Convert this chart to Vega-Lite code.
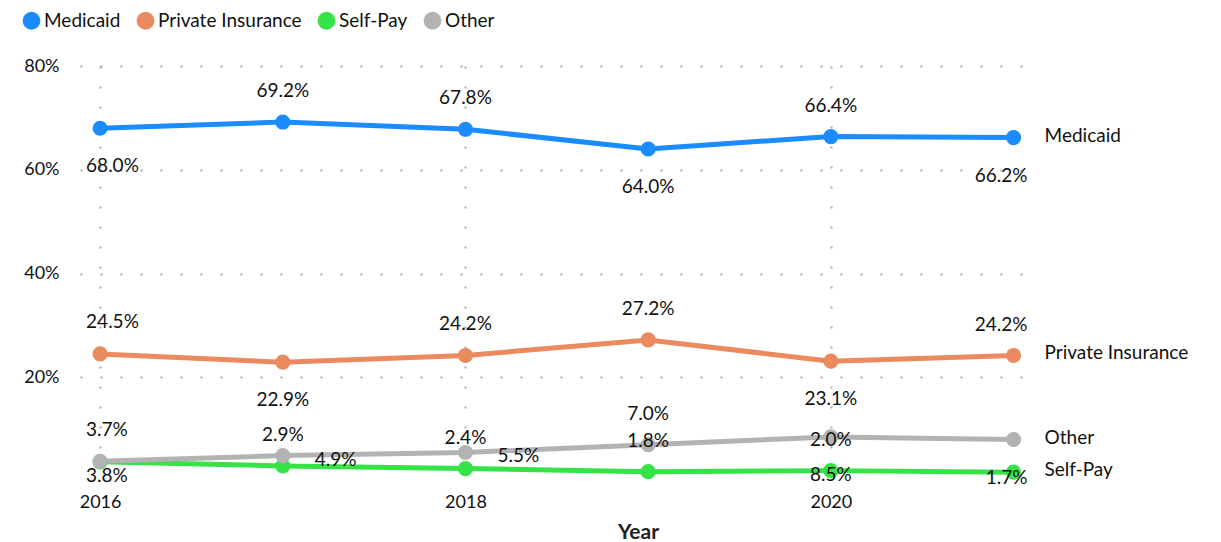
{
  "$schema": "https://vega.github.io/schema/vega-lite/v6.json",
  "width": 950,
  "height": 415,
  "autosize": "none",
  "padding": {"left": 80, "top": 66, "right": 191, "bottom": 61},
  "background": "white",
  "config": {
    "font": "Lato",
    "view": {"stroke": null},
    "text": {"font": "Lato", "fontSize": 19, "color": "#111", "baseline": "middle"}
  },
  "data": {
    "values": [
      {"series": "Medicaid", "year": 2016, "value": 0.680},
      {"series": "Medicaid", "year": 2017, "value": 0.692},
      {"series": "Medicaid", "year": 2018, "value": 0.678},
      {"series": "Medicaid", "year": 2019, "value": 0.640},
      {"series": "Medicaid", "year": 2020, "value": 0.664},
      {"series": "Medicaid", "year": 2021, "value": 0.662},
      {"series": "Private Insurance", "year": 2016, "value": 0.245},
      {"series": "Private Insurance", "year": 2017, "value": 0.229},
      {"series": "Private Insurance", "year": 2018, "value": 0.242},
      {"series": "Private Insurance", "year": 2019, "value": 0.272},
      {"series": "Private Insurance", "year": 2020, "value": 0.231},
      {"series": "Private Insurance", "year": 2021, "value": 0.242},
      {"series": "Self-Pay", "year": 2016, "value": 0.037},
      {"series": "Self-Pay", "year": 2017, "value": 0.029},
      {"series": "Self-Pay", "year": 2018, "value": 0.024},
      {"series": "Self-Pay", "year": 2019, "value": 0.018},
      {"series": "Self-Pay", "year": 2020, "value": 0.020},
      {"series": "Self-Pay", "year": 2021, "value": 0.017},
      {"series": "Other", "year": 2016, "value": 0.038},
      {"series": "Other", "year": 2017, "value": 0.049},
      {"series": "Other", "year": 2018, "value": 0.055},
      {"series": "Other", "year": 2019, "value": 0.070},
      {"series": "Other", "year": 2020, "value": 0.085},
      {"series": "Other", "year": 2021, "value": 0.080}
    ]
  },
  "transform": [
    {"calculate": "datum.series + '|' + datum.year", "as": "key"}
  ],
  "encoding": {
    "x": {
      "field": "year", "type": "quantitative",
      "scale": {"domain": [2015.89, 2021.09], "nice": false, "zero": false},
      "axis": {
        "values": [2016, 2018, 2020], "format": "d",
        "domain": false, "ticks": false,
        "labelFontSize": 18, "labelColor": "#111", "labelPadding": 12,
        "grid": true, "gridDash": [2, 18], "gridColor": "#aaa", "gridWidth": 2,
        "title": "Year", "titleFontSize": 21, "titleFontWeight": "bold", "titleColor": "#222",
        "titleX": 558, "titleY": 51, "titleBaseline": "middle", "titleAlign": "center", "titleAnchor": null
      }
    },
    "y": {
      "field": "value", "type": "quantitative",
      "scale": {"domain": [0, 0.8], "nice": false},
      "axis": {
        "values": [0.2, 0.4, 0.6, 0.8], "format": ".0%",
        "domain": false, "ticks": false,
        "labelFontSize": 18, "labelColor": "#111", "labelPadding": 21,
        "grid": true, "gridDash": [2, 18], "gridColor": "#aaa", "gridWidth": 2,
        "title": null
      }
    }
  },
  "layer": [
    {
      "mark": {"type": "line", "strokeWidth": 5},
      "encoding": {
        "color": {
          "field": "series", "type": "nominal",
          "scale": {"domain": ["Medicaid", "Private Insurance", "Self-Pay", "Other"], "range": ["#1a8cff", "#eb8a5f", "#35e347", "#b3b3b3"]},
          "legend": {
            "orient": "none", "legendX": -58, "legendY": -55, "direction": "horizontal",
            "title": null, "symbolType": "circle", "symbolSize": 320, "symbolStrokeWidth": 0,
            "labelFontSize": 19, "labelColor": "#111", "columnPadding": 15, "labelOffset": 3, "symbolOpacity": 1
          }
        },
        "order": {"field": "year"}
      }
    },
    {
      "mark": {"type": "circle", "size": 230, "opacity": 1},
      "encoding": {
        "color": {"field": "series", "type": "nominal"}
      }
    },
    {
      "transform": [{"filter": "indexof(['Medicaid|2017','Medicaid|2018','Medicaid|2020','Private Insurance|2018','Private Insurance|2019','Self-Pay|2017','Self-Pay|2018','Self-Pay|2019','Self-Pay|2020','Other|2019'], datum.key) >= 0"}],
      "mark": {"type": "text", "align": "center", "dy": -31},
      "encoding": {"text": {"field": "value", "format": ".1%"}}
    },
    {
      "transform": [{"filter": "indexof(['Medicaid|2019','Private Insurance|2017','Private Insurance|2020','Other|2020'], datum.key) >= 0"}],
      "mark": {"type": "text", "align": "center", "dy": 38},
      "encoding": {"text": {"field": "value", "format": ".1%"}}
    },
    {
      "transform": [{"filter": "indexof(['Private Insurance|2016','Self-Pay|2016'], datum.key) >= 0"}],
      "mark": {"type": "text", "align": "left", "dx": -14, "dy": -32},
      "encoding": {"text": {"field": "value", "format": ".1%"}}
    },
    {
      "transform": [{"filter": "datum.key == 'Medicaid|2016'"}],
      "mark": {"type": "text", "align": "left", "dx": -14, "dy": 38},
      "encoding": {"text": {"field": "value", "format": ".1%"}}
    },
    {
      "transform": [{"filter": "datum.key == 'Other|2016'"}],
      "mark": {"type": "text", "align": "left", "dx": -14, "dy": 15},
      "encoding": {"text": {"field": "value", "format": ".1%"}}
    },
    {
      "transform": [{"filter": "datum.key == 'Medicaid|2021'"}],
      "mark": {"type": "text", "align": "right", "dx": 14, "dy": 38},
      "encoding": {"text": {"field": "value", "format": ".1%"}}
    },
    {
      "transform": [{"filter": "datum.key == 'Private Insurance|2021'"}],
      "mark": {"type": "text", "align": "right", "dx": 14, "dy": -30},
      "encoding": {"text": {"field": "value", "format": ".1%"}}
    },
    {
      "transform": [{"filter": "datum.key == 'Self-Pay|2021'"}],
      "mark": {"type": "text", "align": "right", "dx": 14, "dy": 6},
      "encoding": {"text": {"field": "value", "format": ".1%"}}
    },
    {
      "transform": [{"filter": "indexof(['Other|2017','Other|2018'], datum.key) >= 0"}],
      "mark": {"type": "text", "align": "left", "dx": 32, "dy": 4},
      "encoding": {"text": {"field": "value", "format": ".1%"}}
    },
    {
      "transform": [{"filter": "datum.year == 2021"}],
      "mark": {"type": "text", "align": "left", "dx": 31, "dy": -2},
      "encoding": {"text": {"field": "series"}}
    }
  ]
}
